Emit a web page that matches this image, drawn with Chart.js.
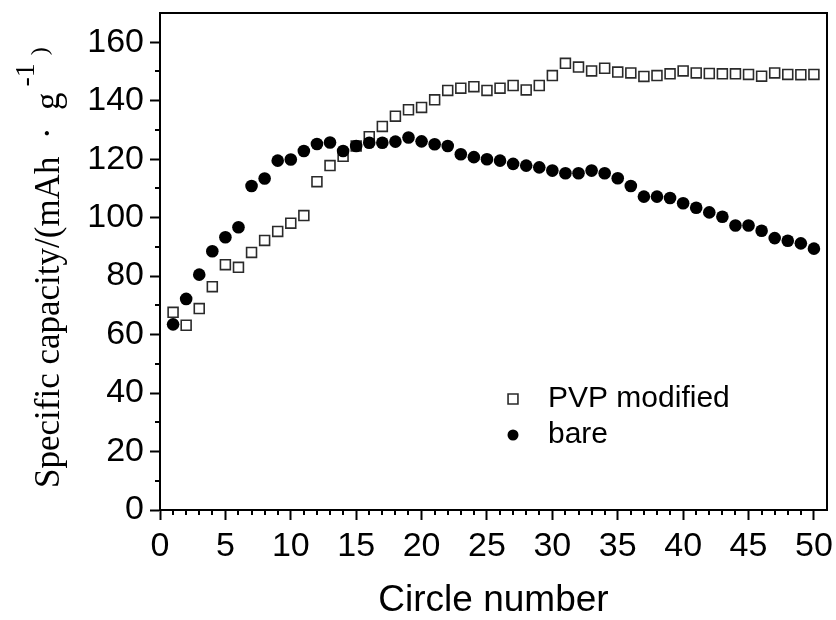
<!DOCTYPE html>
<html>
<head>
<meta charset="utf-8">
<script src="https://cdn.jsdelivr.net/npm/chart.js@4/dist/chart.umd.min.js"></script>
<style>
html,body{margin:0;padding:0;background:#fff;}
#wrap{width:836px;height:620px;position:relative;}
</style>
</head>
<body>
<div id="wrap"><canvas id="c" width="836" height="620"></canvas></div>
<script>
const cycles = [1,2,3,4,5,6,7,8,9,10,11,12,13,14,15,16,17,18,19,20,21,22,23,24,25,26,27,28,29,30,31,32,33,34,35,36,37,38,39,40,41,42,43,44,45,46,47,48,49,50];
const pvpModified = [67.6,63.2,68.9,76.4,83.9,83.0,88.1,92.2,95.3,98.1,100.7,112.3,117.8,121.0,124.5,127.7,131.2,134.7,136.9,137.7,140.3,143.5,144.3,144.8,143.5,144.3,145.2,143.7,145.2,148.6,152.8,151.5,150.2,151.1,149.8,149.5,148.3,148.6,149.2,150.2,149.5,149.3,149.2,149.2,149.0,148.4,149.5,149.0,148.9,149.0];
const bare = [63.5,72.2,80.5,88.5,93.3,96.7,110.8,113.4,119.5,119.9,122.8,125.2,125.7,122.8,124.5,125.6,125.6,126.0,127.4,126.1,125.1,124.5,121.7,120.7,120.0,119.5,118.4,117.8,117.2,116.1,115.2,115.2,116.1,115.2,113.5,110.8,107.2,107.2,106.7,104.9,103.4,101.8,100.3,97.3,97.3,95.5,93.0,92.1,91.2,89.4];
const seriesNames = ['PVP modified','bare'];
const xTitle = 'Circle number';
const yTitleMain = 'Specific capacity/(mAh\u00A0\u00A0\u00B7\u00A0\u00A0g';
const yTitleSup = '-1';
const yTitleEnd = ')';
const xMinorTicks = cycles.filter(v => v % 5 !== 0);
const yMinorTicks = [10,30,50,70,90,110,130,150];

const toPts = arr => arr.map((v,i) => ({x: cycles[i], y: v}));

const framePlugin = {
  id: 'frame',
  afterDraw(chart) {
    const ctx = chart.ctx, a = chart.chartArea;
    const xs = chart.scales.x, ys = chart.scales.y;
    ctx.save();
    ctx.strokeStyle = '#000';
    ctx.lineWidth = 2;
    ctx.strokeRect(a.left, a.top, a.right - a.left, a.bottom - a.top);
    ctx.beginPath();
    xMinorTicks.forEach(v => {
      const px = Math.round(xs.getPixelForValue(v));
      ctx.moveTo(px, a.bottom); ctx.lineTo(px, a.bottom + 5);
    });
    yMinorTicks.forEach(v => {
      const py = Math.round(ys.getPixelForValue(v));
      ctx.moveTo(a.left, py); ctx.lineTo(a.left - 5, py);
    });
    ctx.stroke();

    // legend
    const items = [
      {ds: chart.data.datasets[0], x: 513, y: 399, tx: 548, ty: 407},
      {ds: chart.data.datasets[1], x: 513, y: 435, tx: 548, ty: 443}
    ];
    items.forEach(it => {
      ctx.save();
      ctx.fillStyle = it.ds.backgroundColor;
      ctx.strokeStyle = it.ds.borderColor;
      ctx.lineWidth = it.ds.borderWidth;
      Chart.helpers.drawPoint(ctx, {pointStyle: it.ds.pointStyle, radius: it.ds.legendRadius, borderWidth: it.ds.borderWidth, rotation: 0}, it.x, it.y);
      ctx.restore();
      ctx.fillStyle = '#000';
      ctx.font = '30px "Liberation Sans", Arial, sans-serif';
      ctx.textAlign = 'left';
      ctx.textBaseline = 'alphabetic';
      ctx.fillText(it.ds.label, it.tx, it.ty);
    });

    // y-axis title with superscript
    ctx.save();
    ctx.translate(58.5, 488);
    ctx.rotate(-Math.PI / 2);
    ctx.fillStyle = '#000';
    ctx.textAlign = 'left';
    ctx.textBaseline = 'alphabetic';
    ctx.font = '35px "Liberation Serif", "Times New Roman", serif';
    ctx.fillText(yTitleMain, 0, 0);
    let w = ctx.measureText(yTitleMain).width + 6;
    ctx.font = '28px "Liberation Serif", "Times New Roman", serif';
    ctx.fillText(yTitleSup, w, -25);
    w += ctx.measureText(yTitleSup).width + 8;
    ctx.font = '24px "Liberation Serif", "Times New Roman", serif';
    ctx.fillText(yTitleEnd, w, -12);
    ctx.restore();

    ctx.restore();
  }
};

new Chart(document.getElementById('c'), {
  type: 'scatter',
  data: {
    datasets: [
      {label: seriesNames[0], data: toPts(pvpModified), pointStyle: 'rect', pointRadius: 7, legendRadius: 7,
       backgroundColor: '#ffffff', borderColor: '#2a2a2a', borderWidth: 1.6, showLine: false, order: 1},
      {label: seriesNames[1], data: toPts(bare), pointStyle: 'circle', pointRadius: 6.3, legendRadius: 5.5,
       backgroundColor: '#000000', borderColor: '#000000', borderWidth: 0, showLine: false, order: 0}
    ]
  },
  options: {
    responsive: false,
    animation: false,
    events: [],
    layout: {padding: {top: 13, right: 9, left: 0, bottom: 0}},
    plugins: {legend: {display: false}, tooltip: {enabled: false}},
    scales: {
      x: {
        type: 'linear', min: 0, max: 51,
        afterFit(s) { s.height = 110; s.paddingLeft = 0; s.paddingRight = 0; },
        ticks: {stepSize: 5, includeBounds: false, autoSkip: false, maxRotation: 0, padding: 6, color: '#000',
                font: {family: '"Liberation Sans", Arial, sans-serif', size: 34}},
        grid: {drawOnChartArea: false, drawTicks: true, tickLength: 10, tickWidth: 2, tickColor: '#000'},
        border: {display: true, color: '#000', width: 2},
        title: {display: true, text: xTitle, color: '#000', padding: {top: 0, bottom: -3},
                font: {family: '"Liberation Sans", Arial, sans-serif', size: 37}}
      },
      y: {
        type: 'linear', min: 0, max: 170,
        afterFit(s) { s.width = 160; s.paddingTop = 0; s.paddingBottom = 0; },
        ticks: {stepSize: 20, includeBounds: false, padding: 6, color: '#000',
                font: {family: '"Liberation Sans", Arial, sans-serif', size: 34}},
        grid: {drawOnChartArea: false, drawTicks: true, tickLength: 10, tickWidth: 2, tickColor: '#000'},
        border: {display: true, color: '#000', width: 2},
        title: {display: false}
      }
    }
  },
  plugins: [framePlugin]
});
</script>
</body>
</html>
